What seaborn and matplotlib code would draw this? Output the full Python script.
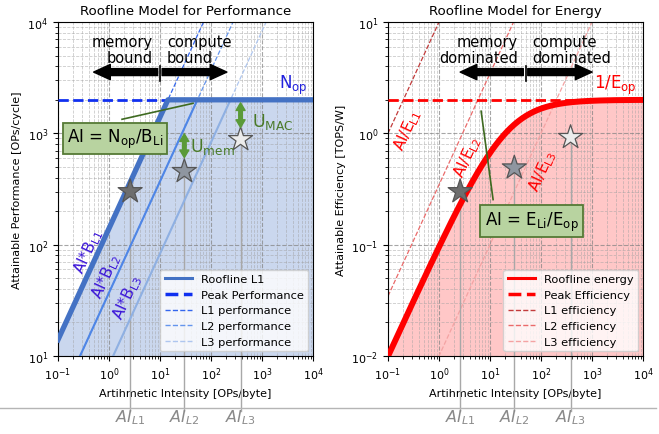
import numpy as np
import pandas as pd
import matplotlib
matplotlib.use("Agg")
import matplotlib.pyplot as plt
import matplotlib.transforms as mtrans
from matplotlib.lines import Line2D
import seaborn as sns

# ---------------- data ----------------
levels = ["L1", "L2", "L3"]
n_op = 2000.0                         # peak OPs/cycle
bandwidth = [140.0, 37.0, 8.3]        # bytes/cycle per memory level
ai_points = [2.6, 30.0, 380.0]        # workload arithmetic intensities
perf_points = [300.0, 455.0, 880.0]   # attained OPs/cycle
e_op = 0.5                            # 1 / peak efficiency (2 TOPS/W)
e_roof = 10.0                         # memory energy term of the energy roofline
e_level = [0.1, 2.9, 100.0]           # AI/E_Li lines
eff_points = [0.30, 0.49, 0.92]       # attained TOPS/W
x_range = [0.1, 1e4]
perf_range = [10.0, 1e4]
eff_range = [0.01, 10.0]

# ---------------- style ----------------
plt.rcParams.update({
    "font.family": ["DejaVu Sans"],
    "font.size": 8, "axes.titlesize": 9.6, "axes.labelsize": 8,
    "xtick.labelsize": 8, "ytick.labelsize": 8, "legend.fontsize": 8.2,
})

blue_roof = "#4472c4"
blue_lvls = ["#3366ee", "#6495ed", "#aec6ef"]
blue_solid = [blue_roof, "#4f86e6", "#8fb0e2"]
red_lvls = ["#c23b3b", "#ea6a6a", "#f4a3a3"]
green_txt = "#4a7a28"
green_arr = "#5a9a38"
star_cols = ["#6e6e6e", "#8f96a0", "#ececec"]
gray_line = "#a8a8a8"

fig = plt.figure(figsize=(6.59, 4.35), dpi=100)
W, H = 659.0, 435.0
ax1 = fig.add_axes([58 / W, 1 - 357 / H, 255 / W, 334 / H])
ax2 = fig.add_axes([388 / W, 1 - 357 / H, 255 / W, 334 / H])

for ax in (ax1, ax2):
    ax.set_xscale("log")
    ax.set_yscale("log")
    ax.set_xlim(x_range)
    ax.grid(True, which="major", ls="--", color="#808080", lw=0.8, alpha=0.7)
    ax.grid(True, which="minor", ls="--", color="#a0a0a0", lw=0.6, alpha=0.55)
ax1.set_ylim(perf_range)
ax2.set_ylim(eff_range)


def slope_angle(ax):
    y0 = ax.get_ylim()[0] * 10
    p1 = ax.transData.transform((1.0, y0))
    p2 = ax.transData.transform((10.0, 10.0 * y0))
    return np.degrees(np.arctan2(p2[1] - p1[1], p2[0] - p1[0]))


# ================= LEFT: performance =================
ax = ax1
for i, (lv, b) in enumerate(zip(levels, bandwidth)):
    df = pd.DataFrame({"AI": x_range, "perf": [x_range[0] * b, x_range[1] * b]})
    sns.lineplot(data=df, x="AI", y="perf", ax=ax, color=blue_lvls[i], lw=0.9,
                 linestyle="--", zorder=2)
    kx = [x_range[0], n_op / b, x_range[1]]
    roof = pd.DataFrame({"AI": kx, "perf": np.minimum(np.array(kx) * b, n_op)})
    if i == 0:
        ax.fill_between(roof["AI"], roof["perf"], perf_range[0], color=blue_roof,
                        alpha=0.28, lw=0, zorder=1)
        sns.lineplot(data=roof, x="AI", y="perf", ax=ax, color=blue_roof, lw=3.8,
                     zorder=4)
    else:
        sns.lineplot(data=roof, x="AI", y="perf", ax=ax, color=blue_solid[i],
                     lw=1.5, zorder=3)
peak = pd.DataFrame({"AI": [x_range[0], n_op / bandwidth[0]], "perf": [n_op, n_op]})
sns.lineplot(data=peak, x="AI", y="perf", ax=ax, color="#1030f0", lw=2.0,
             linestyle="--", zorder=3)
ax.set_title("Roofline Model for Performance")

# ================= RIGHT: energy =================
ax = ax2
xs = np.logspace(np.log10(x_range[0]), np.log10(x_range[1]), 400)
for i, (lv, e) in enumerate(zip(levels, e_level)):
    df = pd.DataFrame({"AI": x_range, "eff": [x_range[0] / e, x_range[1] / e]})
    sns.lineplot(data=df, x="AI", y="eff", ax=ax, color=red_lvls[i], lw=0.9,
                 linestyle="--", zorder=2)
eroof = pd.DataFrame({"AI": xs, "eff": 1.0 / (e_op + e_roof / xs)})
ax.fill_between(eroof["AI"], eroof["eff"], eff_range[0], color="red", alpha=0.22,
                lw=0, zorder=1)
epeak = pd.DataFrame({"AI": x_range, "eff": [1 / e_op, 1 / e_op]})
sns.lineplot(data=epeak, x="AI", y="eff", ax=ax, color="red", lw=2.0,
             linestyle="--", zorder=3)
sns.lineplot(data=eroof, x="AI", y="eff", ax=ax, color="red", lw=4.3, zorder=4)
ax.set_title("Roofline Model for Energy")

# ---------------- stars, vertical lines and AI labels ----------------
yfig_bottom = 1 - 412 / H
for ax, pts in ((ax1, perf_points), (ax2, eff_points)):
    ybot = ax.transData.inverted().transform(
        fig.transFigure.transform((0, yfig_bottom)))[1]
    for i in range(3):
        ax.plot([ai_points[i], ai_points[i]], [pts[i], ybot], color=gray_line,
                lw=1.0, zorder=2.5, clip_on=False)
    sdf = pd.DataFrame({"AI": ai_points, "v": pts, "lvl": levels})
    sns.scatterplot(data=sdf, x="AI", y="v", hue="lvl", palette=star_cols,
                    marker="*", s=330, edgecolor="#555555", linewidth=0.9,
                    legend=False, ax=ax, zorder=7)
    ax.set_xlabel("Artihmetic Intensity [OPs/byte]")
    blend = mtrans.blended_transform_factory(ax.transData, fig.transFigure)
    for i, lv in enumerate(levels):
        ax.text(ai_points[i], 1 - 418 / H, r"$AI_{%s}$" % lv, transform=blend,
                ha="center", va="center", fontsize=11.5, color="#8a8a8a")
ax1.set_ylabel("Attainable Performance [OPs/cycle]")
ax2.set_ylabel("Attainable Efficiency [TOPS/W]")

fig.add_artist(Line2D([0.0, 0.995], [1 - 409 / H] * 2, transform=fig.transFigure,
                      color="#b5b5b5", lw=1.0))

# ---------------- annotations ----------------
ang1 = slope_angle(ax1)
ang2 = slope_angle(ax2)
ab_pos = [(0.40, 88), (0.88, 53), (2.3, 34)]
for (x, y), lv in zip(ab_pos, levels):
    ax1.text(x, y, r"AI*B$_{\rm %s}$" % lv, rotation=ang1, rotation_mode="anchor",
             ha="center", va="center", color="#3a14d8", fontsize=11, zorder=8)
ae_pos = [(0.246, 1.09), (3.55, 0.62), (109, 0.47)]
for (x, y), lv in zip(ae_pos, levels):
    ax2.text(x, y, r"AI/E$_{\rm %s}$" % lv, rotation=ang2, rotation_mode="anchor",
             ha="center", va="center", color="red", fontsize=11, zorder=8)

ax1.text(7620, 2150, r"N$_{\rm op}$", color="#2222dd", fontsize=12, ha="right",
         va="bottom")
ax2.text(7620, 2.15, r"1/E$_{\rm op}$", color="red", fontsize=12, ha="right",
         va="bottom")

# memory / compute arrows
arrow_kw = dict(facecolor="black", edgecolor="black", width=5, headwidth=11,
                headlength=12, shrink=0)
for ax, sep, lo, hi, yv, yt, ysep, t1, t2, xl, xr in (
        (ax1, 10.0, 0.5, 205.0, 3550, 5700, (2950, 4000), "memory\nbound",
         "compute\nbound", 7.3, 13.7),
        (ax2, 50.0, 2.6, 1000.0, 3.55, 5.7, (2.95, 4.0), "memory\ndominated",
         "compute\ndominated", 35.4, 66.7)):
    ax.annotate("", xy=(lo, yv), xytext=(sep * 0.9, yv), arrowprops=arrow_kw,
                zorder=8)
    ax.annotate("", xy=(hi, yv), xytext=(sep * 1.1, yv), arrowprops=arrow_kw,
                zorder=8)
    ax.plot([sep, sep], list(ysep), color="black", lw=1.2, zorder=8)
    ax.text(xl, yt, t1, ha="right", va="center", multialignment="right",
            fontsize=10.5, linespacing=1.1, zorder=8)
    ax.text(xr, yt, t2, ha="left", va="center", multialignment="left",
            fontsize=10.5, linespacing=1.1, zorder=8)

# utilisation arrows (double-headed, drawn as two arrows from the middle)
u_kw = dict(facecolor=green_arr, edgecolor=green_arr, width=2.6, headwidth=6.5,
            headlength=5.5, shrink=0)
for x, top, bot in ((ai_points[2], 1880.0, 1130.0), (ai_points[1], 990.0, 605.0)):
    mid = np.sqrt(top * bot)
    ax1.annotate("", xy=(x, top), xytext=(x, mid), arrowprops=u_kw, zorder=8)
    ax1.annotate("", xy=(x, bot), xytext=(x, mid), arrowprops=u_kw, zorder=8)
ax1.text(630, 1283, r"U$_{\rm MAC}$", color=green_txt, fontsize=12.5, ha="left",
         va="center", zorder=8)
ax1.text(39, 770, r"U$_{\rm mem}$", color=green_txt, fontsize=12.5, ha="left",
         va="center", zorder=8)

# boxed formulas with leader lines
box = dict(boxstyle="square,pad=0.25", fc="#b8d3a0", ec="#557a35", lw=1.3)
ax1.plot([1.8, 44.4], [1337, 1860], color="#3e6a20", lw=1.2, zorder=8)
ax1.text(1.31, 900, r"AI = N$_{\rm op}$/B$_{\rm Li}$", ha="center", va="center",
         fontsize=12, bbox=box, zorder=9)
ax2.plot([6.7, 11.5], [1.58, 0.254], color="#3e6a20", lw=1.2, zorder=8)
ax2.text(65, 0.163, r"AI = E$_{\rm Li}$/E$_{\rm op}$", ha="center", va="center",
         fontsize=12, bbox=box, zorder=9)

# ---------------- legends ----------------
h1 = [Line2D([], [], color=blue_roof, lw=2.2),
      Line2D([], [], color="#1030f0", lw=2.5, ls="--"),
      Line2D([], [], color=blue_lvls[0], lw=1.0, ls="--"),
      Line2D([], [], color=blue_lvls[1], lw=1.0, ls="--"),
      Line2D([], [], color=blue_lvls[2], lw=1.0, ls="--")]
ax1.legend(h1, ["Roofline L1", "Peak Performance", "L1 performance",
                "L2 performance", "L3 performance"], loc="lower right",
           handlelength=2.4, labelspacing=0.5, borderaxespad=0.4).set_zorder(10)
h2 = [Line2D([], [], color="red", lw=2.2),
      Line2D([], [], color="red", lw=2.5, ls="--"),
      Line2D([], [], color=red_lvls[0], lw=1.0, ls="--"),
      Line2D([], [], color=red_lvls[1], lw=1.0, ls="--"),
      Line2D([], [], color=red_lvls[2], lw=1.0, ls="--")]
ax2.legend(h2, ["Roofline energy", "Peak Efficiency", "L1 efficiency",
                "L2 efficiency", "L3 efficiency"], loc="lower right",
           handlelength=2.4, labelspacing=0.5, borderaxespad=0.4).set_zorder(10)

fig.savefig("out.png", dpi=100)
